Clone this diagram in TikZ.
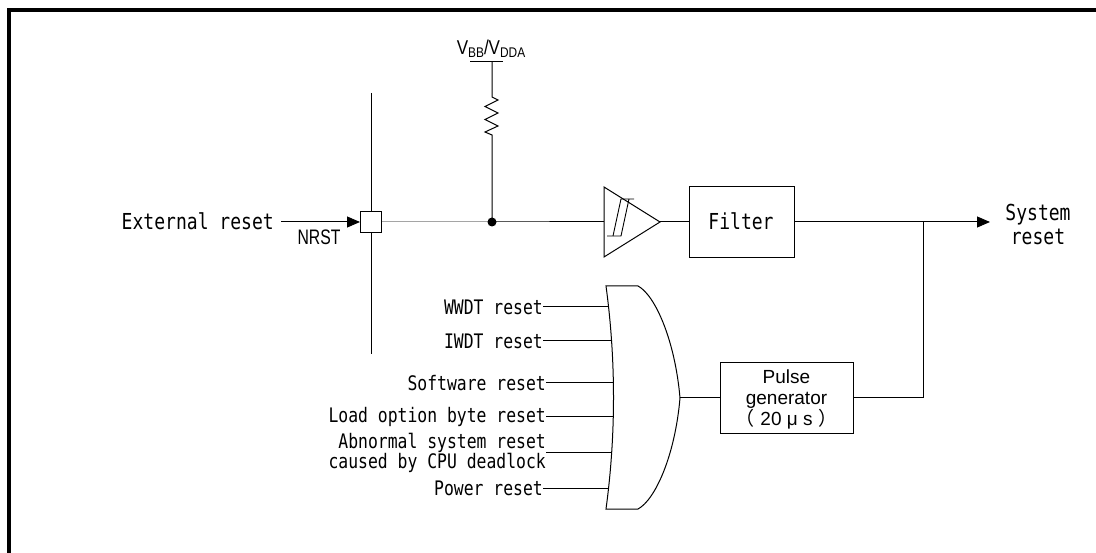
\documentclass[tikz,border=0pt]{standalone}
\usepackage{fontspec}
\usetikzlibrary{arrows.meta}
\newfontfamily\monof{DejaVu Sans Mono}[FakeStretch=0.82]
\newfontfamily\sansf{Liberation Sans}
\newfontfamily\narrowf{Liberation Sans}[FakeStretch=0.75]
\newfontfamily\vfont{Liberation Sans}[FakeStretch=0.85]
\newfontfamily\cjk{Noto Sans CJK SC}
\tikzset{
  wire/.style={line width=1pt},
  arr/.style={wire,-{Triangle[length=13pt,width=11pt]}},
  box/.style={draw,line width=1pt,inner sep=0pt},
  biglbl/.style={inner sep=0pt,font=\monof\fontsize{22}{24}\selectfont},
  inlbl/.style={inner sep=0pt,font=\monof\fontsize{20}{20}\selectfont,align=right,anchor=east},
}
\begin{document}
\begin{tikzpicture}[x=1pt,y=-1pt]
\useasboundingbox (0,0) rectangle (1096,553);
\fill[white] (0,0) rectangle (1096,553);
% frame
\draw[line width=4pt] (9,553) -- (9,10) -- (1096,10);

% NRST pad
\node[box,minimum width=21pt,minimum height=21pt,fill=white] (nrst) at (371,222) {};
\coordinate (ntop) at (371,93);
\coordinate (nbot) at (371,354);
\draw[wire] (ntop) -- (nrst.north);
\draw[wire] (nrst.south) -- (nbot);
\node[biglbl,anchor=east] (ext) at (274,221) {External reset};
\coordinate (extstart) at (281,222);
\draw[arr] (extstart) -- (nrst.west);
\node[inner sep=0pt,font=\narrowf\fontsize{21}{24}\selectfont] (nrstlbl) at (319,237) {NRST};

% supply and pull-up
\node[inner sep=0pt,font=\vfont\fontsize{20}{20}\selectfont] (vdd) at (491,49)
  {V\raisebox{-3pt}{\fontsize{14}{14}\selectfont BB}/V\raisebox{-3pt}{\fontsize{14}{14}\selectfont DDA}};
\coordinate (vbarL) at (470,62);
\coordinate (vbarR) at (503,62);
\coordinate (vtop) at (492,62);
\coordinate (j) at (492,222);
\draw[wire] (vbarL) -- (vbarR);
\draw[wire,line join=miter] (vtop) -- (492,97) -- (498,100) -- (485,106.5) -- (498,113) -- (485,119.5) -- (498,126) -- (485,132) -- (492,135) -- (j);
\fill (j) circle (4.5pt);

% Schmitt buffer
\coordinate (bufin) at (604,222);
\coordinate (bufout) at (660,222);
\draw[wire,line join=miter] (604,187) -- (bufout) -- (604,257) -- cycle;
\draw[line width=0.9pt] (607,236) -- (621,236) -- (629,199);
\draw[line width=0.9pt] (613,236) -- (621,199) -- (634,199);
\draw[wire] (nrst.east) -- (j) -- (bufin);

% Filter
\node[box,minimum width=105pt,minimum height=71pt] (filter) at (741.5,222) {};
\node[biglbl] (filterlbl) at (741,221) {Filter};
\draw[wire] (bufout) -- (filter.west);
\coordinate (br) at (923,222);
\coordinate (out) at (990,222);
\draw[arr] (filter.east) -- (out);
\node[biglbl,align=center] (sysres) at (1038,224) {System\\reset};

% Pulse generator
\node[box,minimum width=133pt,minimum height=71pt] (pulse) at (786.5,398) {};
\node[inner sep=0pt,align=center,font=\sansf\fontsize{19}{21}\selectfont] (pulselbl) at (786.5,399)
  {Pulse\\generator\\{\cjk （}\hspace{6pt}20 μ s\hspace{6pt}{\cjk ）}};
\draw[wire] (pulse.east) -| (br);

% OR gate
\coordinate (apex) at (680,398);
\draw[wire] (606,286) -- (638,286) .. controls (655,295) and (675,340) .. (apex)
  .. controls (675,456) and (655,500) .. (638,509) -- (606,509)
  .. controls (616,435) and (616,360) .. cycle;
\draw[wire] (apex) -- (pulse.west);

% inputs
\node[inlbl] (i1) at (543,307) {WWDT reset};
\node[inlbl] (i2) at (543,341) {IWDT reset};
\node[inlbl] (i3) at (546,383) {Software reset};
\node[inlbl] (i4) at (546,417) {Load option byte reset};
\node[inlbl] (i5) at (546,453) {Abnormal system reset\\caused by CPU deadlock};
\node[inlbl] (i6) at (543,488) {Power reset};
\coordinate (g1) at (608.4,307);
\coordinate (g2) at (611.2,341);
\coordinate (g3) at (612.9,383);
\coordinate (g4) at (612.8,417);
\coordinate (g5) at (611.3,453);
\coordinate (g6) at (608.4,488);
\foreach \k in {1,...,6} { \draw[wire] (i\k.east) -- (g\k); }
\end{tikzpicture}
\end{document}
